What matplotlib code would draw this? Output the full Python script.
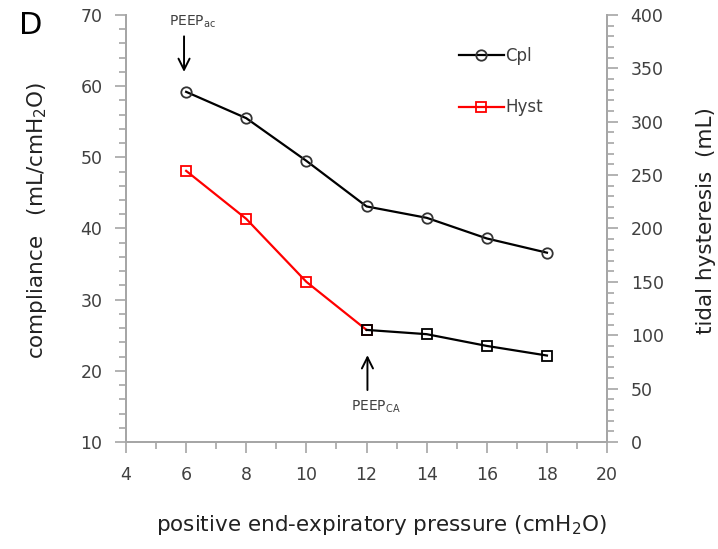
import matplotlib
matplotlib.use('Agg')
import matplotlib.pyplot as plt
from matplotlib.lines import Line2D
from matplotlib.ticker import MultipleLocator

plt.rcParams['font.family'] = ['DejaVu Sans']

peep = [6, 8, 10, 12, 14, 16, 18]
cpl = [59.2, 55.5, 49.5, 43.1, 41.5, 38.6, 36.6]
hyst = [254, 209, 150, 105, 101, 90, 81]
split = 3  # index of PEEP_CA, hyst turns black from here

txt = '#404040'
lbl = '#222222'
gray = '#a6a6a6'

fig = plt.figure(figsize=(7.18, 5.49), dpi=100)
ax = fig.add_axes([0.1755, 0.1949, 0.67, 0.7778])
ax2 = ax.twinx()

ax.plot(peep, cpl, '-o', color='black', lw=1.6, ms=7.5, mfc='none', mec='#333333', mew=1.3)
ax2.plot(peep[:split + 1], hyst[:split + 1], '-s', color='red', lw=1.6, ms=7.5, mfc='none', mec='red', mew=1.3)
ax2.plot(peep[split:], hyst[split:], '-s', color='black', lw=1.6, ms=7.5, mfc='none', mec='black', mew=1.3)

ax.set_xlim(4, 20)
ax.set_ylim(10, 70)
ax2.set_ylim(0, 400)

ax.xaxis.set_major_locator(MultipleLocator(2))
ax.xaxis.set_minor_locator(MultipleLocator(1))
ax.yaxis.set_major_locator(MultipleLocator(10))
ax.yaxis.set_minor_locator(MultipleLocator(2))
ax2.yaxis.set_major_locator(MultipleLocator(50))
ax2.yaxis.set_minor_locator(MultipleLocator(10))

for a in (ax, ax2):
  a.spines['top'].set_visible(False)
  for s in ('left', 'right', 'bottom'):
    a.spines[s].set_color(gray)
    a.spines[s].set_linewidth(1.3)
  a.tick_params(which='major', length=8, width=1.2, color=gray, labelcolor=txt, labelsize=12.5, direction='out', pad=9)
  a.tick_params(which='minor', length=5, width=1.2, color=gray, direction='out')

fig.text(37 / 718, 1 - 220 / 549, 'compliance   (mL/cmH$_2$O)', rotation=90, ha='center', va='center',
         fontsize=15.5, color=lbl)
fig.text(706 / 718, 1 - 221 / 549, 'tidal hysteresis  (mL)', rotation=90, ha='center', va='center',
         fontsize=15.5, color=lbl)
fig.text(381 / 718, 1 - 525 / 549, 'positive end-expiratory pressure (cmH$_2$O)', ha='center', va='center',
         fontsize=15.5, color=lbl)

fig.text(31 / 718, 1 - 25 / 549, 'D', fontsize=22, color='black', ha='center', va='center')

arrow = dict(arrowstyle='->', color='black', lw=1.4, mutation_scale=20, shrinkA=0, shrinkB=0)
ax.annotate('', xy=(5.93, 62.0), xytext=(5.93, 67.0), arrowprops=arrow)
ax.text(6.2, 69.0, 'PEEP$_{\\mathrm{ac}}$', ha='center', va='center', fontsize=10, color=txt)
ax.annotate('', xy=(12.03, 22.2), xytext=(12.03, 17.3), arrowprops=arrow)
ax.text(12.3, 14.9, 'PEEP$_{\\mathrm{CA}}$', ha='center', va='center', fontsize=10, color=txt)

handles = [
  Line2D([], [], color='black', lw=1.6, marker='o', ms=7.5, mfc='none', mec='#333333', mew=1.3),
  Line2D([], [], color='red', lw=1.6, marker='s', ms=7.5, mfc='none', mec='red', mew=1.3),
]
leg = ax.legend(handles, ['Cpl', 'Hyst'], loc='upper left', bbox_to_anchor=(0.66, 0.96), frameon=False,
                handlelength=2.7, handletextpad=0.1, labelspacing=2.0, fontsize=12)
for t in leg.get_texts():
  t.set_color(txt)

fig.savefig('out.png', dpi=100)
